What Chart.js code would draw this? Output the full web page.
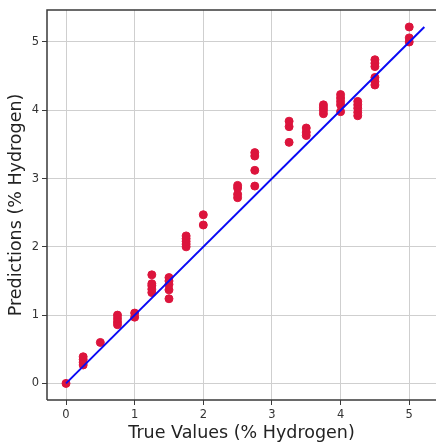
<!DOCTYPE html>
<html>
<head>
<meta charset="utf-8">
<script src="https://cdn.jsdelivr.net/npm/chart.js@4/dist/chart.umd.min.js"></script>
<style>
  html, body { margin: 0; padding: 0; background: #fff; }
  #wrap { width: 436px; height: 444px; }
</style>
</head>
<body>
<div id="wrap"><canvas id="parity"></canvas></div>
<script>
// true hydrogen % for each sample, and the model's prediction for it
var trueValues = [
  0,
  0.25, 0.25, 0.25, 0.25,
  0.5,
  0.75, 0.75, 0.75, 0.75,
  1.0, 1.0,
  1.25, 1.25, 1.25, 1.25, 1.25,
  1.5, 1.5, 1.5, 1.5, 1.5,
  1.75, 1.75, 1.75, 1.75, 1.75,
  2.0, 2.0,
  2.5, 2.5, 2.5, 2.5,
  2.75, 2.75, 2.75, 2.75,
  3.25, 3.25, 3.25,
  3.5, 3.5, 3.5,
  3.75, 3.75, 3.75, 3.75,
  4.0, 4.0, 4.0, 4.0, 4.0,
  4.25, 4.25, 4.25, 4.25, 4.25,
  4.5, 4.5, 4.5, 4.5, 4.5, 4.5,
  5.0, 5.0, 5.0
];
var predictions = [
  0,
  0.27, 0.31, 0.35, 0.39,
  0.60,
  0.86, 0.90, 0.95, 1.00,
  0.97, 1.03,
  1.33, 1.38, 1.43, 1.46, 1.59,
  1.24, 1.37, 1.45, 1.50, 1.55,
  2.00, 2.04, 2.08, 2.12, 2.16,
  2.32, 2.47,
  2.72, 2.77, 2.86, 2.90,
  2.89, 3.12, 3.33, 3.38,
  3.53, 3.76, 3.84,
  3.63, 3.68, 3.74,
  3.95, 4.00, 4.04, 4.08,
  3.98, 4.08, 4.13, 4.18, 4.23,
  3.92, 3.97, 4.03, 4.08, 4.13,
  4.37, 4.42, 4.48, 4.64, 4.69, 4.74,
  5.00, 5.06, 5.22
];
// ideal y = x line
var idealLine = [0, 5.22];
var xTicks = [0, 1, 2, 3, 4, 5];
var yTicks = [0, 1, 2, 3, 4, 5];

var points = trueValues.map(function (t, i) { return { x: t, y: predictions[i] }; });
var linePts = idealLine.map(function (v) { return { x: v, y: v }; });

var frame = {
  id: 'frame',
  afterDraw: function (chart) {
    var a = chart.chartArea, c = chart.ctx;
    c.save();
    c.strokeStyle = '#3a3a3a';
    c.lineWidth = 1.5;
    c.beginPath();
    c.moveTo(a.left, a.bottom);
    c.lineTo(a.left, a.top);
    c.lineTo(a.right, a.top);
    c.moveTo(a.left, a.bottom);
    c.lineTo(a.right, a.bottom);
    c.stroke();
    c.restore();
  }
};

var ctx = document.getElementById('parity').getContext('2d');
var myChart = new Chart(ctx, {
  type: 'scatter',
  data: {
    datasets: [{
      type: 'line',
      data: linePts,
      borderColor: '#0a0af5',
      borderWidth: 2,
      pointRadius: 0,
      fill: false,
      order: 0
    }, {
      data: points,
      backgroundColor: '#dc143c',
      borderColor: '#dc143c',
      pointRadius: 4,
      pointHoverRadius: 4,
      order: 1
    }]
  },
  options: {
    responsive: true,
    maintainAspectRatio: false,
    animation: false,
    layout: { autoPadding: false, padding: { top: 6, right: 0, left: 6, bottom: 0 } },
    plugins: { legend: { display: false }, tooltip: { enabled: false } },
    scales: {
      x: {
        type: 'linear',
        min: -0.277,
        max: 5.39,
        afterBuildTicks: function (scale) { scale.ticks = xTicks.map(function (v) { return { value: v }; }); },
        afterFit: function (scale) { scale.height = 44; },
        grid: { color: '#cfcfcf', lineWidth: 1, tickLength: 5, tickColor: '#3a3a3a' },
        border: { display: false },
        ticks: { color: '#333', font: { family: 'DejaVu Sans', size: 11.5 }, padding: 3 },
        title: { display: true, text: 'True Values (% Hydrogen)', color: '#222', font: { family: 'DejaVu Sans', size: 17.5 }, padding: { top: 0, bottom: 0 } }
      },
      y: {
        type: 'linear',
        min: -0.243,
        max: 5.47,
        afterBuildTicks: function (scale) { scale.ticks = yTicks.map(function (v) { return { value: v }; }); },
        afterFit: function (scale) { scale.width = 41; },
        grid: { color: '#cfcfcf', lineWidth: 1, tickLength: 5, tickColor: '#3a3a3a' },
        border: { display: false },
        ticks: { color: '#333', font: { family: 'DejaVu Sans', size: 11.5 }, padding: 3 },
        title: { display: true, text: 'Predictions (% Hydrogen)', color: '#222', font: { family: 'DejaVu Sans', size: 17.5 }, padding: { top: 0, bottom: 2 } }
      }
    }
  },
  plugins: [frame]
});
</script>
</body>
</html>
